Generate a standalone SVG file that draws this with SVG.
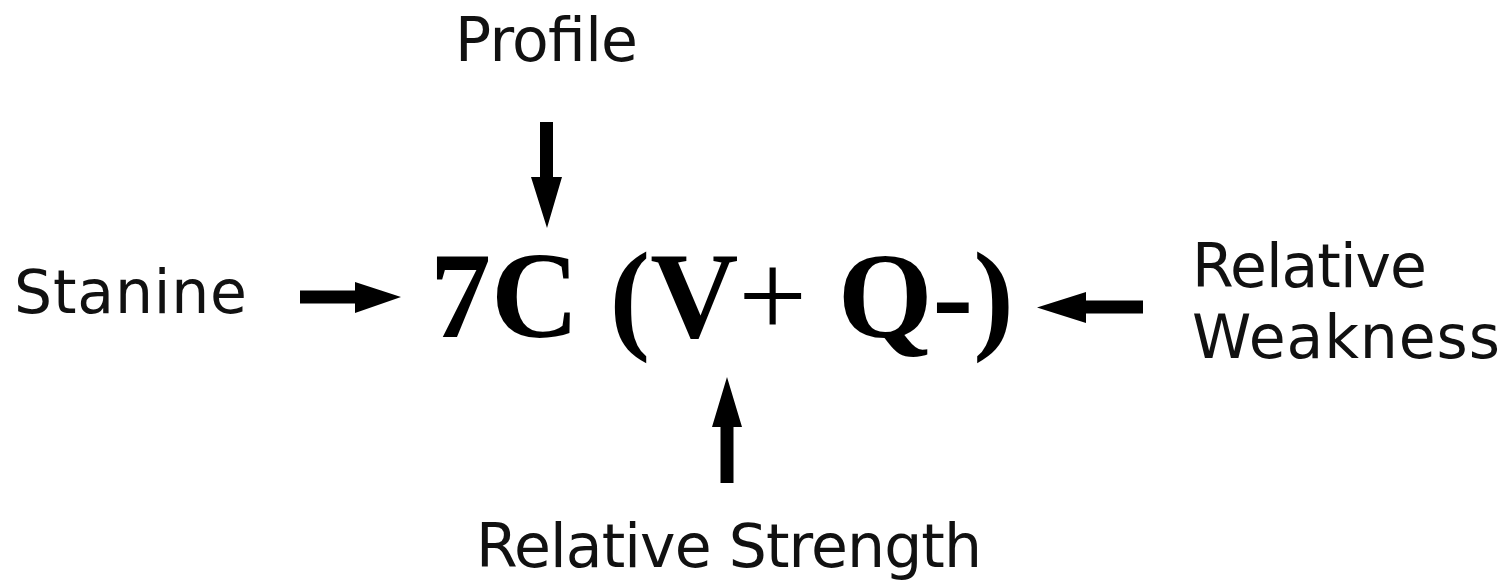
<svg xmlns="http://www.w3.org/2000/svg" width="1505" height="582" viewBox="0 0 1505 582">
<style>
.lbl{font-family:"DejaVu Sans","Verdana",sans-serif;font-size:60px;fill:#111}
.main{font-family:"Liberation Serif","Times New Roman",serif;font-size:122px;font-weight:bold;fill:#000}
.arr{fill:#000;stroke:none}
</style>
<rect width="1505" height="582" fill="#fff"/>
<g id="profile"><text class="lbl" x="455" y="61" textLength="183" lengthAdjust="spacing">Profile</text></g>
<g id="stanine"><text class="lbl" x="14" y="313" textLength="233" lengthAdjust="spacing">Stanine</text></g>
<g id="weakness"><text class="lbl" x="1192" y="287" textLength="235" lengthAdjust="spacing">Relative</text><text class="lbl" x="1192" y="358" textLength="308" lengthAdjust="spacing">Weakness</text></g>
<g id="strength"><text class="lbl" x="476" y="567" textLength="506" lengthAdjust="spacing">Relative Strength</text></g>
<g id="score"><text class="main" x="430" y="337">7C (V<tspan font-weight="normal">+</tspan> Q-)</text></g>
<g id="connectors">
<path class="arr" d="M540,122 H553 V177 H562 L547,228 L531,177 H540 Z"/>
<path class="arr" d="M300,290.5 H355 V282 L401,297 L355,313 V303.5 H300 Z"/>
<path class="arr" d="M1143,300.5 H1086 V292 L1037,307.5 L1086,323 V313.5 H1143 Z"/>
<path class="arr" d="M720.5,483 V427 H712 L727,377 L742,427 H733.5 V483 Z"/>
</g>
</svg>
